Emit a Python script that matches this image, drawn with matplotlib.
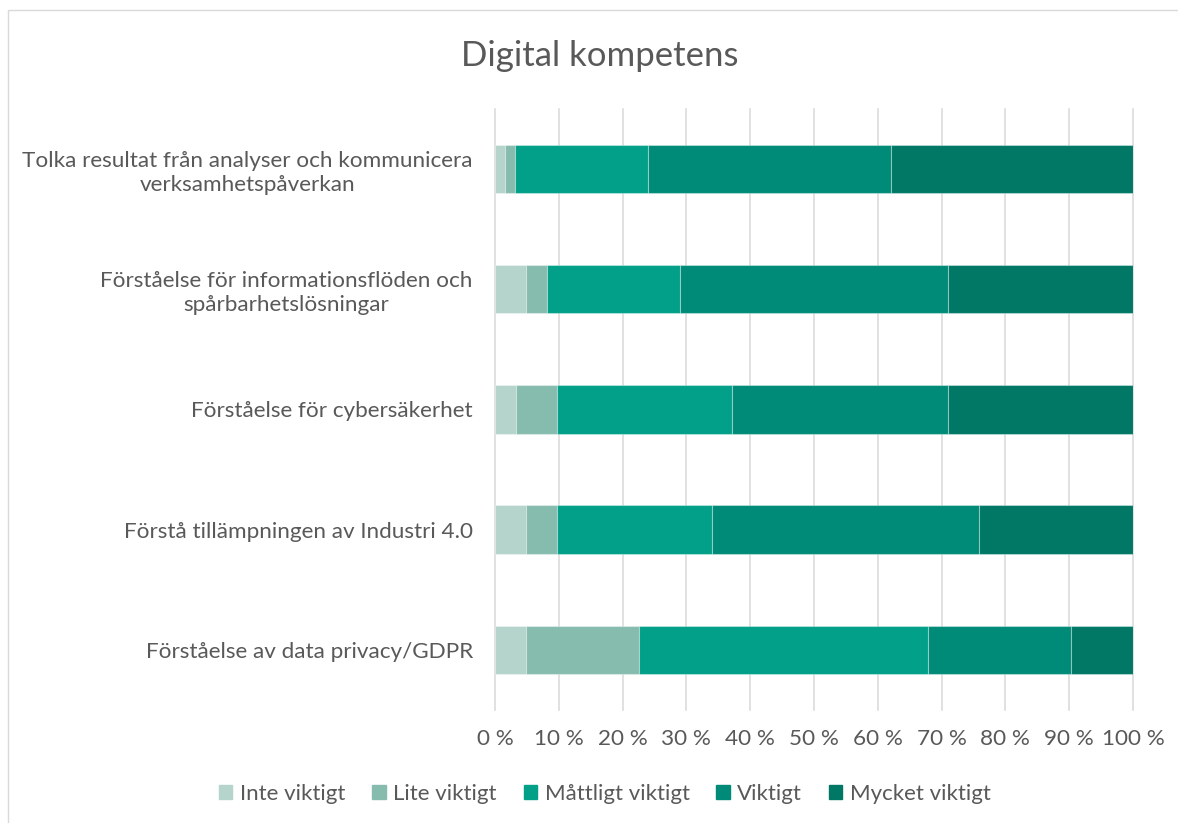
import matplotlib
matplotlib.use("Agg")
import matplotlib.pyplot as plt
import matplotlib.patches as patches
import numpy as np

#--------------------------------------------------------------------------------------
#Data (percent of answers)
categories = [
    "Tolka resultat från analyser och kommunicera\nverksamhetspåverkan",
    "Förståelse för informationsflöden och\nspårbarhetslösningar",
    "Förståelse för cybersäkerhet",
    "Förstå tillämpningen av Industri 4.0",
    "Förståelse av data privacy/GDPR",
]
series_names = ["Inte viktigt", "Lite viktigt", "Måttligt viktigt", "Viktigt", "Mycket viktigt"]
inte_viktigt = [1.6, 4.8, 3.3, 4.8, 4.8]
lite_viktigt = [1.6, 3.3, 6.4, 4.9, 17.8]
mattligt_viktigt = [20.8, 20.9, 27.4, 24.3, 45.2]
viktigt = [38.0, 42.0, 33.9, 41.9, 22.5]
mycket_viktigt = [38.0, 29.0, 29.0, 24.1, 9.7]
xtick_vals = list(range(0, 101, 10))
xtick_labels = [str(v) + " %" for v in xtick_vals]

colors = ["#B5D4CC", "#86BCAE", "#02A088", "#008B78", "#007865"]
textcol = "#595959"
font = "Lato"

#--------------------------------------------------------------------------------------
#Plot
plt.rcParams["font.family"] = [font, "DejaVu Sans"]
fig = plt.figure(figsize=(11.78, 8.23), dpi=100)
ax = fig.add_axes([495/1178, 1-709.5/823, 638/1178, 600/823])

y = np.arange(len(categories))
left = np.zeros(len(categories))
allvals = [inte_viktigt, lite_viktigt, mattligt_viktigt, viktigt, mycket_viktigt]
for name, vals, c in zip(series_names, allvals, colors):
    ax.barh(y, vals, left=left, height=0.4, color=c, label=name,
            edgecolor=(1, 1, 1, 0.35), linewidth=0.8, zorder=3)
    left = left + np.array(vals)

ax.set_xlim(0, 100)
ax.set_ylim(len(categories)-0.5, -0.5)
ax.set_xticks(xtick_vals)
ax.set_xticklabels(xtick_labels)
ax.set_yticks(y)
ax.set_yticklabels(categories, multialignment="center")
ax.tick_params(axis="both", length=0, labelsize=16.2, colors=textcol)
ax.tick_params(axis="x", pad=14)
ax.tick_params(axis="y", pad=16)
ax.grid(axis="x", color="#D9D9D9", linewidth=1.1, zorder=0)
for g in ax.get_xgridlines():
    g.set_clip_on(False)
for s in ax.spines.values():
    s.set_visible(False)

fig.text(600/1178, 1-56/823, "Digital kompetens", ha="center", va="center",
         fontsize=25, color=textcol)

handles = [patches.Patch(color=c) for c in colors]
leg = fig.legend(handles, series_names, loc="center", bbox_to_anchor=(605/1178, 1-794/823),
                 ncol=5, frameon=False, fontsize=16, handlelength=0.6, handleheight=0.6,
                 handletextpad=0.35, columnspacing=1.2)
for t in leg.get_texts():
    t.set_color(textcol)

fig.patches.append(patches.Rectangle((8/1178, -0.1), 1.2, 1-10/823+0.1, fill=False,
                                     edgecolor="#D9D9D9", linewidth=1.0,
                                     transform=fig.transFigure, figure=fig))

fig.savefig("out.png", dpi=100)
